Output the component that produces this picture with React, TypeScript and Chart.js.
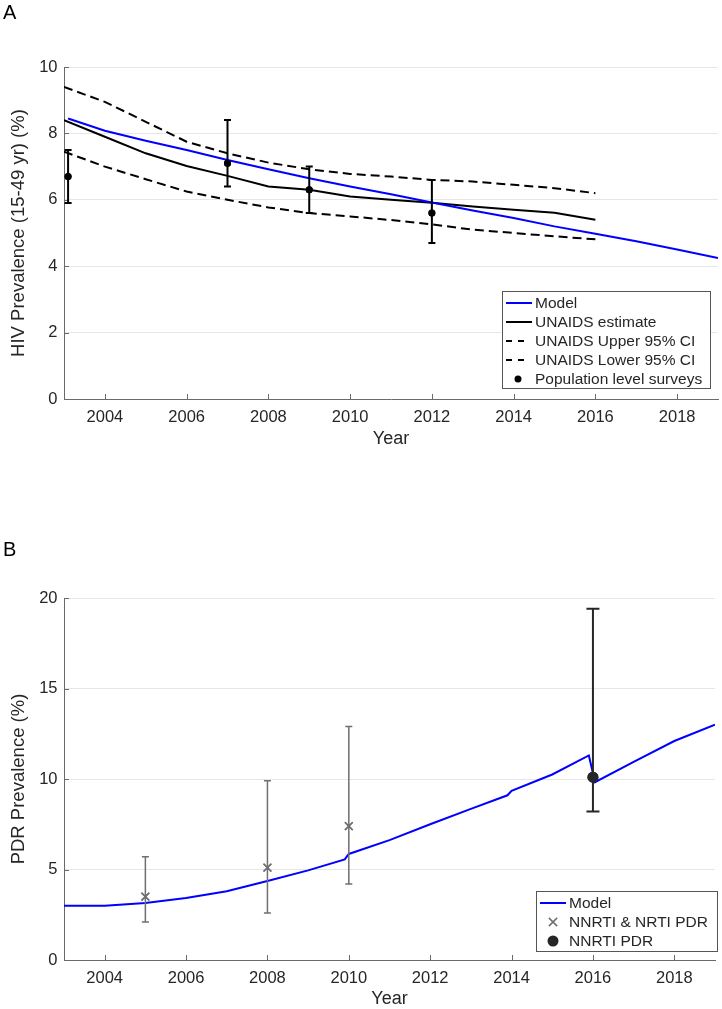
import React, { useEffect, useRef } from "react";
import { Chart, registerables } from "chart.js";

Chart.register(...registerables);

const FONT = "'Liberation Sans', Arial, Helvetica, sans-serif";
const TEXT = "#262626";
const AXIS = "#6a6a6a";
const GRID = "#e6e6e6";
const BLUE = "#0000ff";
const BLACK = "#000000";
const GRAY = "#6f6f6f";
const DARK = "#262626";

const xTickYears = [2004, 2006, 2008, 2010, 2012, 2014, 2016, 2018];

// ---------- Panel A ----------
const modelYearsA = [2003.1, 2004, 2005, 2006, 2007, 2008, 2009, 2010, 2011, 2012, 2013, 2014, 2015, 2016, 2017, 2018, 2019];
const modelValuesA = [8.45, 8.08, 7.78, 7.5, 7.2, 6.92, 6.65, 6.4, 6.17, 5.92, 5.68, 5.45, 5.2, 4.98, 4.75, 4.5, 4.25];
const unaidsYears = [2003, 2004, 2005, 2006, 2007, 2008, 2009, 2010, 2011, 2012, 2013, 2014, 2015, 2016];
const unaidsEstimate = [8.4, 7.9, 7.4, 7.02, 6.72, 6.4, 6.3, 6.1, 6.0, 5.91, 5.8, 5.7, 5.61, 5.4];
const unaidsUpper = [9.4, 8.95, 8.35, 7.75, 7.4, 7.12, 6.92, 6.78, 6.7, 6.6, 6.55, 6.45, 6.35, 6.2];
const unaidsLower = [7.45, 7.0, 6.62, 6.25, 6.0, 5.77, 5.6, 5.5, 5.39, 5.26, 5.1, 5.0, 4.9, 4.81];
const surveyYears = [2003.1, 2007, 2009, 2012];
const surveyValues = [6.7, 7.1, 6.3, 5.6];
const surveyLow = [5.9, 6.4, 5.6, 4.7];
const surveyHigh = [7.5, 8.4, 7.0, 6.6];
const yTicksA = [0, 2, 4, 6, 8, 10];

// ---------- Panel B ----------
const modelYearsB = [2003, 2004, 2005, 2006, 2007, 2008, 2009, 2009.9, 2010, 2011, 2012, 2013, 2013.9, 2014, 2015, 2015.9, 2016.05, 2017, 2018, 2019];
const modelValuesB = [3.0, 3.0, 3.15, 3.42, 3.8, 4.36, 4.95, 5.56, 5.86, 6.62, 7.5, 8.35, 9.1, 9.35, 10.25, 11.3, 9.82, 10.95, 12.1, 13.0];
const pdrYears = [2005, 2008, 2010];
const pdrValues = [3.5, 5.1, 7.4];
const pdrLow = [2.1, 2.6, 4.2];
const pdrHigh = [5.7, 9.9, 12.9];
const nnrtiYears = [2016];
const nnrtiValues = [10.1];
const nnrtiLow = [8.2];
const nnrtiHigh = [19.4];
const yTicksB = [0, 5, 10, 15, 20];

const pts = (xs: number[], ys: number[]) => xs.map((x, i) => ({ x, y: ys[i] }));

// ---------- plugins ----------
const errorBarsPlugin = {
  id: "errorBars",
  afterDatasetsDraw(chart: any, _args: any, opts: any) {
    const sets = (opts && opts.sets) || [];
    const { ctx, scales } = chart;
    const x = scales.x;
    const y = scales.y;
    for (const s of sets) {
      ctx.save();
      ctx.strokeStyle = s.color;
      ctx.lineWidth = s.width;
      ctx.setLineDash([]);
      ctx.beginPath();
      s.xs.forEach((xv: number, i: number) => {
        const px = x.getPixelForValue(xv);
        const lo = y.getPixelForValue(s.lo[i]);
        const hi = y.getPixelForValue(s.hi[i]);
        ctx.moveTo(px, lo);
        ctx.lineTo(px, hi);
        ctx.moveTo(px - s.cap, lo);
        ctx.lineTo(px + s.cap, lo);
        ctx.moveTo(px - s.cap, hi);
        ctx.lineTo(px + s.cap, hi);
      });
      ctx.stroke();
      ctx.restore();
      const meta = chart.getDatasetMeta(s.datasetIndex);
      meta.data.forEach((el: any) => el.draw(ctx, chart.chartArea));
    }
  },
};

const inwardTicksPlugin = {
  id: "inwardTicks",
  afterDatasetsDraw(chart: any) {
    const { ctx, chartArea: a, scales } = chart;
    const x = scales.x;
    const y = scales.y;
    ctx.save();
    ctx.strokeStyle = AXIS;
    ctx.lineWidth = 1;
    ctx.beginPath();
    x.ticks.forEach((t: any) => {
      const px = Math.round(x.getPixelForValue(t.value)) + 0.5;
      ctx.moveTo(px, a.bottom);
      ctx.lineTo(px, a.bottom - 5);
    });
    y.ticks.forEach((t: any) => {
      const py = Math.round(y.getPixelForValue(t.value)) + 0.5;
      ctx.moveTo(a.left, py);
      ctx.lineTo(a.left + 5, py);
    });
    ctx.stroke();
    ctx.restore();
  },
};

const boxLegendPlugin = {
  id: "boxLegend",
  afterDraw(chart: any, _args: any, o: any) {
    if (!o || !o.box) return;
    const { ctx } = chart;
    ctx.save();
    const b = o.box;
    ctx.fillStyle = "#ffffff";
    ctx.fillRect(b.left, b.top, b.right - b.left, b.bottom - b.top);
    ctx.strokeStyle = "#555555";
    ctx.lineWidth = 1;
    ctx.strokeRect(b.left + 0.5, b.top + 0.5, b.right - b.left, b.bottom - b.top);
    ctx.font = `${o.fontSize}px ${FONT}`;
    ctx.textBaseline = "middle";
    ctx.textAlign = "left";
    chart.data.datasets.forEach((ds: any, i: number) => {
      const yy = o.rowStart + i * o.rowStep;
      ctx.setLineDash([]);
      if (ds.showLine) {
        ctx.strokeStyle = ds.borderColor;
        ctx.lineWidth = ds.borderWidth;
        if (ds.borderDash && ds.borderDash.length) {
          ctx.setLineDash([6, 6]);
          ctx.beginPath();
          ctx.moveTo(o.lineX0, yy);
          ctx.lineTo(o.lineX0 + 18, yy);
          ctx.stroke();
        } else {
          ctx.beginPath();
          ctx.moveTo(o.lineX0, yy);
          ctx.lineTo(o.lineX1, yy);
          ctx.stroke();
        }
        ctx.setLineDash([]);
      } else if (ds.pointStyle === "crossRot") {
        const r = ds.pointRadius * 0.75;
        ctx.strokeStyle = ds.borderColor;
        ctx.lineWidth = ds.borderWidth;
        ctx.beginPath();
        ctx.moveTo(o.markerX - r, yy - r);
        ctx.lineTo(o.markerX + r, yy + r);
        ctx.moveTo(o.markerX - r, yy + r);
        ctx.lineTo(o.markerX + r, yy - r);
        ctx.stroke();
      } else {
        ctx.fillStyle = ds.backgroundColor;
        ctx.beginPath();
        ctx.arc(o.markerX, yy, ds.pointRadius, 0, Math.PI * 2);
        ctx.fill();
      }
      ctx.fillStyle = TEXT;
      ctx.fillText(ds.label, o.textX, yy + 0.5);
    });
    ctx.restore();
  },
};

function makeScales(yMin: number, yMax: number, yTicks: number[], yTitle: string, xHeight: number) {
  return {
    x: {
      type: "linear",
      min: 2003,
      max: 2019,
      afterBuildTicks: (s: any) => {
        s.ticks = xTickYears.map((v) => ({ value: v }));
      },
      afterFit: (s: any) => {
        s.height = xHeight;
      },
      grid: { display: true, drawOnChartArea: false, drawTicks: false },
      border: { display: true, color: AXIS, width: 1 },
      ticks: {
        color: TEXT,
        font: { family: FONT, size: 16.5 },
        padding: 9,
        maxRotation: 0,
        autoSkip: false,
        callback: (v: any) => String(v),
      },
      title: {
        display: true,
        text: "Year",
        color: TEXT,
        font: { family: FONT, size: 18 },
        padding: 0,
      },
    },
    y: {
      type: "linear",
      min: yMin,
      max: yMax,
      afterBuildTicks: (s: any) => {
        s.ticks = yTicks.map((v) => ({ value: v }));
      },
      afterFit: (s: any) => {
        s.width = 64;
      },
      grid: {
        color: (c: any) => (c.tick && c.tick.value === yMin ? "rgba(0,0,0,0)" : GRID),
        drawTicks: false,
        lineWidth: 1,
      },
      border: { display: true, color: AXIS, width: 1 },
      ticks: {
        color: TEXT,
        font: { family: FONT, size: 16.5 },
        padding: 6.5,
        callback: (v: any) => String(v),
      },
      title: {
        display: true,
        text: yTitle,
        color: TEXT,
        font: { family: FONT, size: 18.5 },
        padding: { top: 8, bottom: 0 },
      },
    },
  };
}

function configA(): any {
  return {
    type: "scatter",
    data: {
      datasets: [
        { label: "Model", data: pts(modelYearsA, modelValuesA), showLine: true, borderColor: BLUE, backgroundColor: BLUE, borderWidth: 2, pointRadius: 0, tension: 0 },
        { label: "UNAIDS estimate", data: pts(unaidsYears, unaidsEstimate), showLine: true, borderColor: BLACK, backgroundColor: BLACK, borderWidth: 2, pointRadius: 0, tension: 0 },
        { label: "UNAIDS Upper 95% CI", data: pts(unaidsYears, unaidsUpper), showLine: true, borderColor: BLACK, backgroundColor: BLACK, borderWidth: 2, borderDash: [9, 5], pointRadius: 0, tension: 0 },
        { label: "UNAIDS Lower 95% CI", data: pts(unaidsYears, unaidsLower), showLine: true, borderColor: BLACK, backgroundColor: BLACK, borderWidth: 2, borderDash: [9, 5], pointRadius: 0, tension: 0 },
        { label: "Population level surveys", data: pts(surveyYears, surveyValues), showLine: false, borderColor: BLACK, backgroundColor: BLACK, borderWidth: 0, pointRadius: 3.5, pointStyle: "circle" },
      ],
    },
    options: {
      responsive: false,
      animation: false,
      events: [],
      layout: { padding: { left: 0, top: 67, right: 4, bottom: 0 } },
      scales: makeScales(0, 10, yTicksA, "HIV Prevalence (15-49 yr) (%)", 51),
      plugins: {
        legend: { display: false },
        tooltip: { enabled: false },
        errorBars: {
          sets: [{ datasetIndex: 4, xs: surveyYears, lo: surveyLow, hi: surveyHigh, color: BLACK, width: 2, cap: 3.5 }],
        },
        boxLegend: {
          box: { left: 502, top: 291, right: 710, bottom: 388 },
          rowStart: 303,
          rowStep: 19,
          lineX0: 506,
          lineX1: 532,
          markerX: 518,
          textX: 535,
          fontSize: 15.5,
        },
      },
    },
    plugins: [inwardTicksPlugin, errorBarsPlugin, boxLegendPlugin],
  };
}

function configB(): any {
  return {
    type: "scatter",
    data: {
      datasets: [
        { label: "Model", data: pts(modelYearsB, modelValuesB), showLine: true, borderColor: BLUE, backgroundColor: BLUE, borderWidth: 2, pointRadius: 0, tension: 0 },
        { label: "NNRTI & NRTI PDR", data: pts(pdrYears, pdrValues), showLine: false, borderColor: GRAY, backgroundColor: GRAY, borderWidth: 1.5, pointRadius: 5.5, pointStyle: "crossRot" },
        { label: "NNRTI PDR", data: pts(nnrtiYears, nnrtiValues), showLine: false, borderColor: DARK, backgroundColor: DARK, borderWidth: 0, pointRadius: 5.5, pointStyle: "circle" },
      ],
    },
    options: {
      responsive: false,
      animation: false,
      events: [],
      layout: { padding: { left: 0, top: 118, right: 4, bottom: 0 } },
      scales: makeScales(0, 20, yTicksB, "PDR Prevalence (%)", 50),
      plugins: {
        legend: { display: false },
        tooltip: { enabled: false },
        errorBars: {
          sets: [
            { datasetIndex: 1, xs: pdrYears, lo: pdrLow, hi: pdrHigh, color: GRAY, width: 1.5, cap: 3.5 },
            { datasetIndex: 2, xs: nnrtiYears, lo: nnrtiLow, hi: nnrtiHigh, color: DARK, width: 2, cap: 6.5 },
          ],
        },
        boxLegend: {
          box: { left: 536, top: 411, right: 717, bottom: 471 },
          rowStart: 423,
          rowStep: 19,
          lineX0: 540,
          lineX1: 566,
          markerX: 553,
          textX: 569,
          fontSize: 15.5,
        },
      },
    },
    plugins: [inwardTicksPlugin, errorBarsPlugin, boxLegendPlugin],
  };
}

function ChartCanvas({ make, top, height }: { make: () => any; top: number; height: number }) {
  const ref = useRef<HTMLCanvasElement | null>(null);
  useEffect(() => {
    const chart = new Chart(ref.current as HTMLCanvasElement, make());
    return () => chart.destroy();
  }, []);
  return (
    <canvas
      ref={ref}
      width={722}
      height={height}
      style={{ position: "absolute", left: 0, top, width: 722, height, display: "block" }}
    />
  );
}

const panelLabel: React.CSSProperties = {
  position: "absolute",
  left: 3,
  fontFamily: FONT,
  fontSize: 20,
  lineHeight: "20px",
  color: "#000",
};

export default function App() {
  return (
    <div style={{ position: "absolute", left: 0, top: 0, width: 722, height: 1009, background: "#fff", overflow: "hidden" }}>
      <ChartCanvas make={configA} top={0} height={450} />
      <ChartCanvas make={configB} top={480} height={530} />
      <div style={{ ...panelLabel, top: 2 }}>A</div>
      <div style={{ ...panelLabel, top: 539 }}>B</div>
    </div>
  );
}
